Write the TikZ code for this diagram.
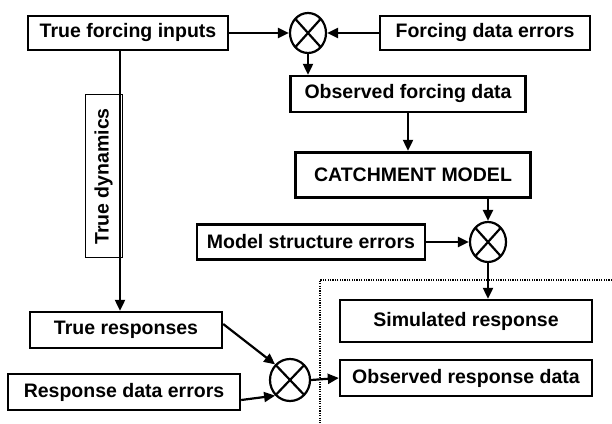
\documentclass[tikz,border=0pt]{standalone}
\usepackage{fontspec}
\setmainfont{Liberation Sans}
\usetikzlibrary{positioning, shapes.geometric, arrows.meta}

\tikzset{
  databox/.style={rectangle, draw, line width=2.4pt, inner sep=0pt, minimum height=36pt,
    font=\bfseries\fontsize{19.5}{22}\selectfont},
  modelbox/.style={databox, line width=3.4pt},
  labelbox/.style={rectangle, draw, line width=1pt, inner sep=0pt,
    font=\bfseries\fontsize{19.5}{22}\selectfont},
  errsum/.style={ellipse, draw, line width=2.2pt, inner sep=0pt, minimum width=36pt, minimum height=40pt,
    path picture={\draw[line width=2.2pt]
      (path picture bounding box.north west) -- (path picture bounding box.south east)
      (path picture bounding box.north east) -- (path picture bounding box.south west);}},
  flow/.style={-{Triangle[length=11pt,width=10pt]}, line width=2.2pt},
}

\begin{document}
\begin{tikzpicture}[x=1pt,y=1pt]
\useasboundingbox (0,0) rectangle (612,423);

% Forcing side
\node[databox, minimum width=200pt, minimum height=34pt] (tfi) at (128,390) {True forcing inputs};
\node[errsum] (sum1) at (308,390) {};
\node[databox, minimum width=210pt, minimum height=34pt] (fde) at (485,390) {Forcing data errors};
\node[databox, minimum width=235pt] (ofd) at (408,329) {Observed forcing data};

% Model
\node[modelbox, minimum width=235pt, minimum height=45pt] (cm) at (413,248) {CATCHMENT MODEL};
\node[errsum] (sum2) at (488,181) {};
\node[databox, minimum width=228pt, minimum height=35pt] (mse) at (311,181) {Model structure errors};

% Responses
\node[databox, minimum width=252pt, minimum height=42pt] (sr) at (466,102) {Simulated response};
\node[databox, minimum width=252pt] (ord) at (466,45) {Observed response data};
\node[databox, minimum width=192pt] (tr) at (126,93) {True responses};
\node[databox, minimum width=232pt] (rde) at (124,31) {Response data errors};
\node[errsum, minimum width=40pt, minimum height=42pt] (sum3) at (290,43) {};

% True dynamics label
\node[labelbox, rotate=90, minimum width=163pt, minimum height=37pt] (td) at (103.5,246.5) {True dynamics};

% Connectors
\draw[flow] (tfi.east) -- (sum1.west);
\draw[flow] (fde.west) -- (sum1.east);
\draw[flow] (sum1.south) -- (sum1.south |- ofd.north);
\draw[flow] (ofd.south) -- (ofd.south |- cm.north);
\draw[flow] (cm.south -| sum2.north) -- (sum2.north);
\draw[flow] (mse.east) -- (sum2.west);
\draw[flow] (sum2.south) -- (sum2.south |- sr.north);
\draw[flow] ([xshift=-8pt]tfi.south) -- ([xshift=-8pt]tfi.south |- tr.north);
\draw[flow] ([yshift=6pt]tr.east) -- (sum3.north west);
\draw[flow] ([yshift=-8pt]rde.east) -- (sum3.south west);
\draw[flow] (sum3.east) -- (ord.west);

% Model boundary
\coordinate (bnd) at (320,143);
\coordinate (bndr) at (612,143);
\coordinate (bndb) at (320,0);
\draw[line width=1.3pt, dash pattern=on 1.2pt off 1.2pt] (bndr) -- (bnd) -- (bndb);

\end{tikzpicture}
\end{document}
